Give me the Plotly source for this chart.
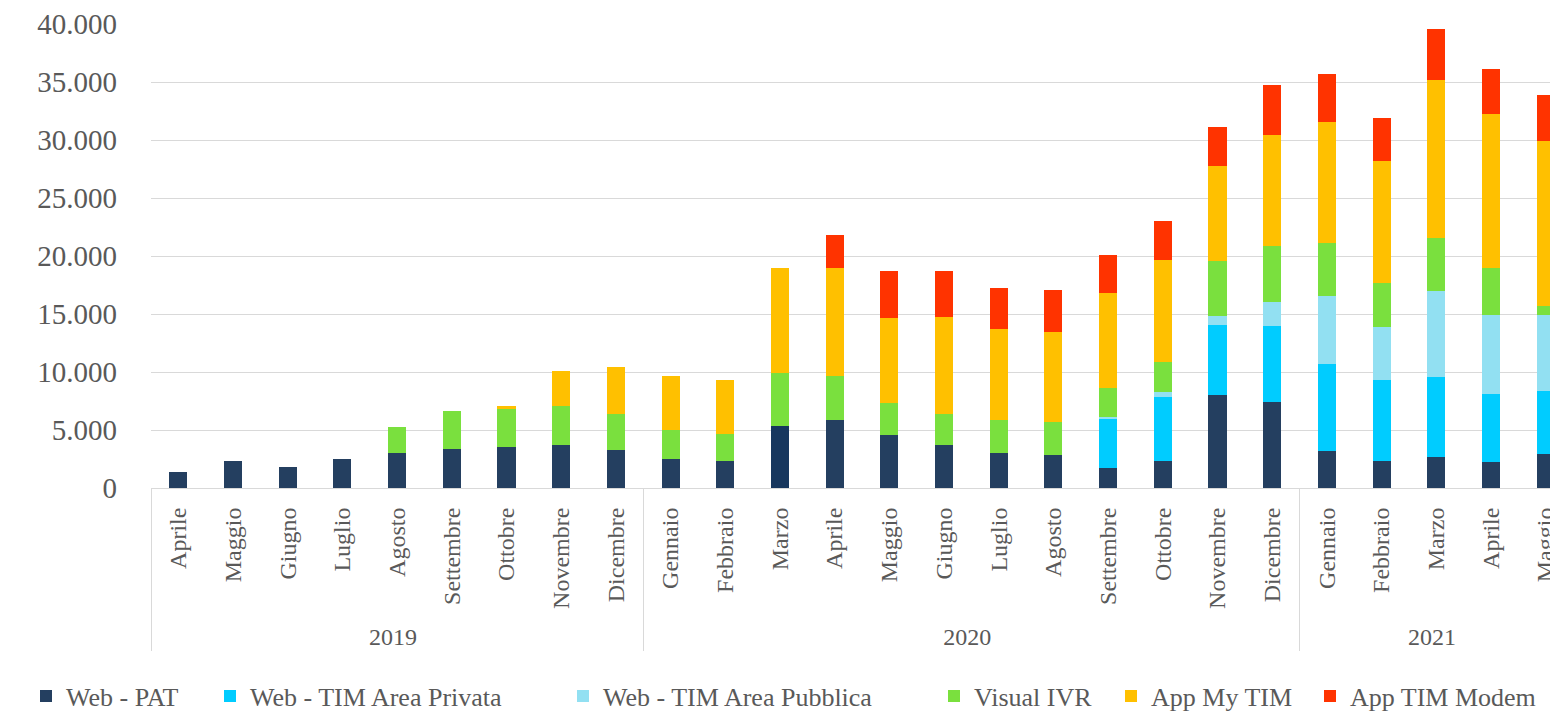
import plotly.graph_objects as go

ZW = "\u200b"  # zero-width mark keeps 2019 month categories distinct so plotly keeps chronological order

years = ["2019"] * 9 + ["2020"] * 12 + ["2021"] * 5
months = ["Aprile", "Maggio", "Giugno", "Luglio", "Agosto", "Settembre", "Ottobre", "Novembre", "Dicembre",
          "Gennaio", "Febbraio", "Marzo", "Aprile", "Maggio", "Giugno", "Luglio", "Agosto", "Settembre",
          "Ottobre", "Novembre", "Dicembre",
          "Gennaio", "Febbraio", "Marzo", "Aprile", "Maggio"]

web_pat = [1400, 2350, 1800, 2500, 3000, 3400, 3550, 3670, 3270,
           2460, 2350, 5340, 5850, 4610, 3670, 3010, 2870, 1690, 2350, 8030, 7450,
           3150, 2350, 2630, 2200, 2890]
web_privata = [0, 0, 0, 0, 0, 0, 0, 0, 0,
               0, 0, 0, 0, 0, 0, 0, 0, 4300, 5530, 6050, 6520,
               7570, 6970, 6970, 5940, 5480]
web_pubblica = [0, 0, 0, 0, 0, 0, 0, 0, 0,
                0, 0, 0, 0, 0, 0, 0, 0, 150, 410, 720, 2040,
                5830, 4540, 7380, 6770, 6540]
visual_ivr = [0, 0, 0, 0, 2300, 3250, 3250, 3410, 3150,
              2580, 2300, 4560, 3810, 2730, 2750, 2840, 2860, 2520, 2580, 4730, 4870,
              4590, 3780, 4530, 4070, 800]
app_mytim = [0, 0, 0, 0, 0, 0, 280, 2990, 4050,
             4620, 4700, 9060, 9300, 7320, 8350, 7860, 7700, 8150, 8780, 8210, 9550,
             10410, 10530, 13650, 13230, 14200]
app_modem = [0, 0, 0, 0, 0, 0, 0, 0, 0,
             0, 0, 0, 2840, 4040, 3930, 3500, 3640, 3240, 3350, 3380, 4340,
             4160, 3760, 4450, 3900, 3940]

y_ticks = [0, 5000, 10000, 15000, 20000, 25000, 30000, 35000, 40000]
y_tick_labels = ["0", "5.000", "10.000", "15.000", "20.000", "25.000", "30.000", "35.000", "40.000"]

series_names = ["Web - PAT", "Web - TIM Area Privata", "Web - TIM Area Pubblica",
                "Visual IVR", "App My TIM", "App TIM Modem"]
series_values = [web_pat, web_privata, web_pubblica, visual_ivr, app_mytim, app_modem]
series_colors = ["#243F60", "#00CCFF", "#92E0F2", "#7AE03E", "#FFC000", "#FF3300"]
legend_x_px = [26, 210, 563, 934, 1111, 1310]

month_keys = [m + ZW if y == "2019" else m for y, m in zip(years, months)]
x = [years, month_keys]

W, H = 1550, 713
font_family = "Liberation Serif, Times New Roman, serif"

fig = go.Figure()
legend_layouts = {}
for i, (name, vals, col) in enumerate(zip(series_names, series_values, series_colors)):
    colors = [col] * len(vals)
    if i == 0:
        colors[11] = "#17375E"
    lg = "legend" if i == 0 else f"legend{i + 1}"
    fig.add_trace(go.Bar(x=x, y=vals, name=name, legend=lg,
                         marker=dict(color=colors, line=dict(width=0))))
    legend_layouts[lg] = dict(orientation="h", xref="container", yref="container",
                              x=legend_x_px[i] / W, y=17 / H, xanchor="left", yanchor="middle",
                              bgcolor="rgba(0,0,0,0)",
                              font=dict(size=26, color="#595959", family=font_family))

fig.update_layout(
    barmode="stack",
    bargap=0.67,
    width=W, height=H,
    margin=dict(l=151, r=0, t=24, b=225),
    plot_bgcolor="white", paper_bgcolor="white",
    font=dict(family=font_family, color="#595959"),
    showlegend=True,
    **legend_layouts,
)
fig.update_xaxes(
    type="multicategory",
    range=[-0.5, 25.08],
    tickangle=-90,
    tickfont=dict(size=24, color="#595959", family=font_family),
    showline=True, linecolor="#D9D9D9", linewidth=1,
    showgrid=False, ticks="",
    ticklabelstandoff=9,
    showdividers=True, dividercolor="#D9D9D9", dividerwidth=1,
)
fig.update_yaxes(
    range=[0, 40000],
    tickvals=y_ticks, ticktext=y_tick_labels,
    tickfont=dict(size=29, color="#595959", family=font_family),
    showgrid=True, gridcolor="#D9D9D9", gridwidth=1,
    zeroline=False, showline=False, ticks="",
    ticklabelstandoff=33,
)

fig.write_html("out.html")
